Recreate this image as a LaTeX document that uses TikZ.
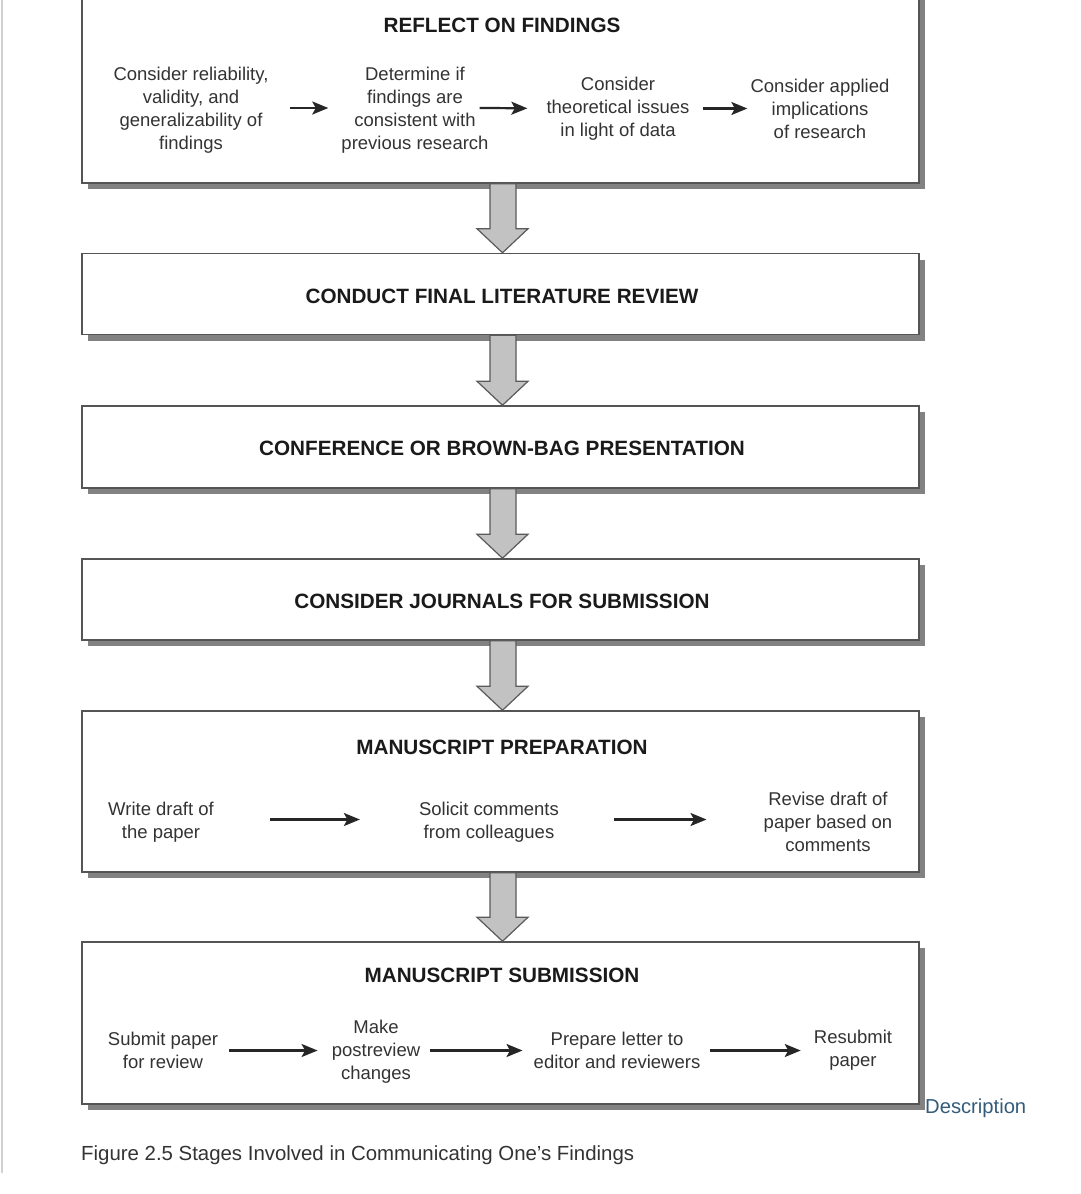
\documentclass[tikz,border=0pt]{standalone}
\usepackage{fontspec}
\setmainfont{Liberation Sans}
\usetikzlibrary{arrows.meta,shadows,calc}
\definecolor{boxline}{HTML}{555555}
\definecolor{shadowgray}{HTML}{828282}
\definecolor{bodytext}{HTML}{333333}
\definecolor{titletext}{HTML}{1A1A1A}
\definecolor{blockfill}{HTML}{C2C2C2}
\definecolor{blockline}{HTML}{5A5A5A}
\definecolor{linkblue}{RGB}{52,92,122}
\definecolor{pageline}{HTML}{D0D0D0}
\begin{document}
\begin{tikzpicture}[x=1pt,y=-1pt,
  box/.style={draw=boxline, line width=1.5pt, fill=white, rectangle, inner sep=0pt,
    minimum width=837pt,
    general shadow={fill=shadowgray, shadow xshift=6pt, shadow yshift=-6pt}},
  title/.style={font=\fontsize{20.7}{24}\selectfont\bfseries, text=titletext, inner sep=0pt},
  body/.style={font=\fontsize{18.5}{23}\selectfont, text=bodytext, align=center, inner sep=0pt},
  thinarrow/.style={draw=black!85, line width=2.2pt, -{Stealth[length=16pt,width=13pt,inset=3.5pt]}},
  blockarrow/.style={fill=blockfill, draw=blockline, line width=1.2pt, line join=miter}
]
\useasboundingbox (0,0) rectangle (1080,1194);
\clip (0,0) rectangle (1080,1194);
\fill[white] (0,0) rectangle (1080,1194);

% page edge line
\coordinate (pl1) at (2,0);
\coordinate (pl2) at (2,1173);
\draw[pageline, line width=1.5pt] (pl1) -- (pl2);

% boxes
\node[box, minimum height=213pt] (B1) at (500.5,76.5) {};
\node[box, minimum height=81pt] (B2) at (500.5,294) {};
\node[box, minimum height=82pt] (B3) at (500.5,447) {};
\node[box, minimum height=81pt] (B4) at (500.5,599.5) {};
\node[box, minimum height=161pt] (B5) at (500.5,791.5) {};
\node[box, minimum height=162pt] (B6) at (500.5,1023) {};

% block arrows
\newcommand\blockarrow[2]{%
  \draw[blockarrow]
    ($(#1.south)+(-10.5,0)$) -- ($(#2.north)+(-10.5,-24)$) -- ($(#2.north)+(-23.5,-24)$)
    -- ($(#2.north)+(2,0)$) -- ($(#2.north)+(27.5,-24)$) -- ($(#2.north)+(15.5,-24)$)
    -- ($(#1.south)+(15.5,0)$) -- cycle;}
\blockarrow{B1}{B2}
\blockarrow{B2}{B3}
\blockarrow{B3}{B4}
\blockarrow{B4}{B5}
\blockarrow{B5}{B6}

% titles
\node[title] (T1) at (502,25) {REFLECT ON FINDINGS};
\node[title] (T2) at (502,296) {CONDUCT FINAL LITERATURE REVIEW};
\node[title] (T3) at (502,448) {CONFERENCE OR BROWN-BAG PRESENTATION};
\node[title] (T4) at (502,601) {CONSIDER JOURNALS FOR SUBMISSION};
\node[title] (T5) at (502,747) {MANUSCRIPT PREPARATION};
\node[title] (T6) at (502,975) {MANUSCRIPT SUBMISSION};

% box 1 steps
\node[body] (a1) at (191,110.5) {Consider reliability,\\validity, and\\generalizability of\\findings};
\node[body] (a2) at (415,110.5) {Determine if\\findings are\\consistent with\\previous research};
\node[body] (a3) at (618,108.5) {Consider\\theoretical issues\\in light of data};
\node[body] (a4) at (820,108.5) {Consider applied\\implications\\of research};
\draw[thinarrow, shorten <=21pt, shorten >=13pt] ($(a1.east)+(0,-2.5)$) -- ($(a2.west)+(0,-2.5)$);
\draw[thinarrow, shorten <=-9pt, shorten >=19pt] ($(a2.east)+(0,-2.5)$) -- (a3.west);
\draw[thinarrow, shorten <=13pt, shorten >=3pt] (a3.east) -- (a4.west);

% box 5 steps
\node[body] (b1) at (161,822.5) {Write draft of\\the paper};
\node[body] (b2) at (489,822.5) {Solicit comments\\from colleagues};
\node[body] (b3) at (828,821.5) {Revise draft of\\paper based on\\comments};
\draw[thinarrow, shorten <=56pt, shorten >=59pt] ($(b1.east)+(0,-3)$) -- ($(b2.west)+(0,-3)$);
\draw[thinarrow, shorten <=55pt, shorten >=57pt] ($(b2.east)+(0,-3)$) -- ($(b3.west)+(0,-2)$);

% box 6 steps
\node[body] (c1) at (163,1050.5) {Submit paper\\for review};
\node[body] (c2) at (376,1052) {Make\\postreview\\changes};
\node[body] (c3) at (617,1050.5) {Prepare letter to\\editor and reviewers};
\node[body] (c4) at (853,1050.5) {Resubmit\\paper};
\draw[thinarrow, shorten <=11pt, shorten >=14pt] (c1.east) -- ($(c2.west)+(0,-1.5)$);
\draw[thinarrow, shorten <=10pt, shorten >=11pt] ($(c2.east)+(0,-1.5)$) -- (c3.west);
\draw[thinarrow, shorten <=10pt, shorten >=13pt] (c3.east) -- (c4.west);

% link and caption
\node[anchor=west, inner sep=0pt, font=\fontsize{20.2}{24}\selectfont, text=linkblue] (desc) at (925,1108) {Description};
\node[anchor=west, inner sep=0pt, font=\fontsize{20.4}{24}\selectfont, text=bodytext] (cap) at (81,1155) {Figure 2.5 Stages Involved in Communicating One’s Findings};
\end{tikzpicture}
\end{document}
